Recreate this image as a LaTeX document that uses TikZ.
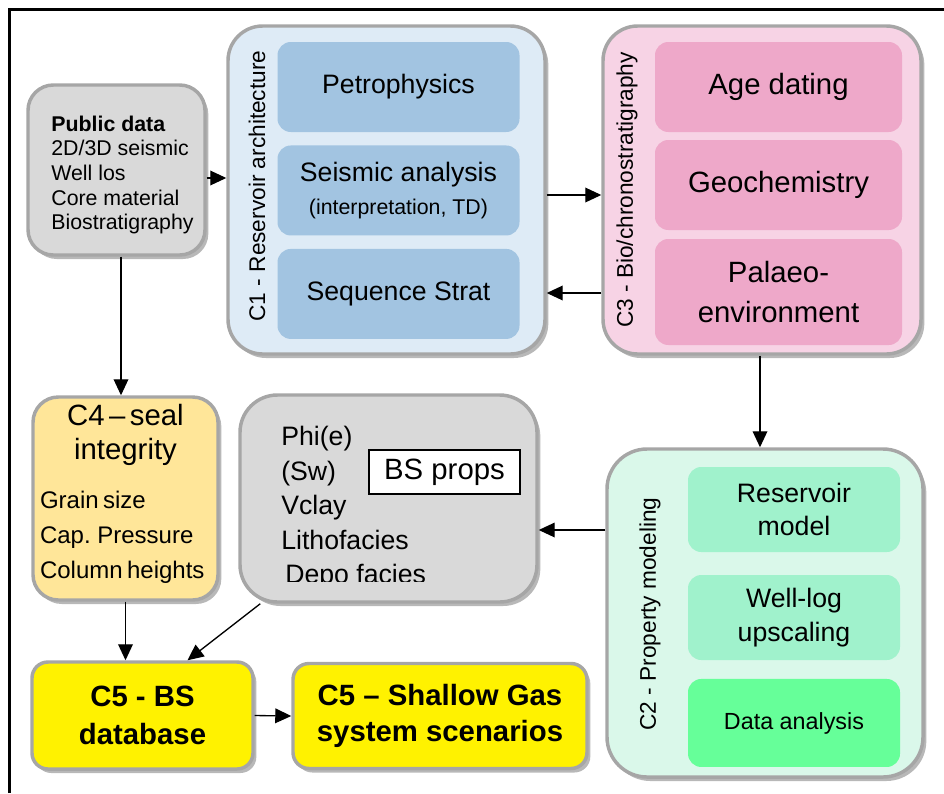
\documentclass[tikz,border=0pt]{standalone}
\usepackage{fontspec}
\setmainfont{Liberation Sans}
\usepackage{tikz}
\usetikzlibrary{shapes,arrows,arrows.meta,positioning,calc,fit,shadows}
\definecolor{boxline}{HTML}{A6A6A6}
\definecolor{pubgray}{HTML}{D9D9D9}
\definecolor{archfill}{HTML}{DEEBF6}
\definecolor{architem}{HTML}{A2C4E1}
\definecolor{biofill}{HTML}{F7D3E5}
\definecolor{bioitem}{HTML}{EEA8C9}
\definecolor{sealfill}{HTML}{FFE699}
\definecolor{modfill}{HTML}{DAF8EA}
\definecolor{moditem}{HTML}{A0F2CC}
\definecolor{datagreen}{HTML}{66FF99}
\tikzstyle{group} = [rectangle, draw=boxline, line width=2.6pt, rounded corners=24pt, inner sep=0pt, align=center, drop shadow={shadow xshift=2.5pt, shadow yshift=-3pt, fill=black!28, opacity=1}]
\tikzstyle{item} = [rectangle, rounded corners=10pt, inner sep=0pt, align=center, execute at begin node=\fontsize{20}{25}\selectfont]
\tikzstyle{title} = [rotate=90, inner sep=0pt, execute at begin node=\fontsize{17}{20}\selectfont]
\tikzstyle{line} = [draw, line width=1pt, -{Triangle[length=12pt,width=11pt]}]

\begin{document}
\begin{tikzpicture}[x=0.75pt, y=-0.75pt]
		\useasboundingbox (0,0) rectangle (944,793);
		\draw[line width=2.2pt] (9.5,793) -- (9.5,9.5) -- (944,9.5);

		% Row 1
		\node[group, fill=pubgray, minimum width=132.75pt, minimum height=127.5pt, rounded corners=19pt] (PublicData) at (116.5,170) {};
		\node[inner sep=0pt, align=left, execute at begin node=\fontsize{16}{18.4}\selectfont] (PublicText) at (122.5,175) {\textbf{Public data}\\2D/3D seismic\\Well los\\Core material\\Biostratigraphy};
		\node[group, fill=archfill, minimum width=237.75pt, minimum height=246pt, rounded corners=26pt] (ResArch) at (386.5,190) {};
		\node[title] (ResArchLabel) at (257,186) {C1 - Reservoir architecture};
		\node[item, fill=architem, minimum width=181.5pt, minimum height=67.5pt] (Petro) at (398.5,87) {Petrophysics};
		\node[item, fill=architem, minimum width=181.5pt, minimum height=67.5pt, below of = Petro, node distance = 77.6pt] (Seismic) {Seismic analysis\\[0pt]{\fontsize{16}{20}\selectfont (interpretation, TD)}};
		\node[item, fill=architem, minimum width=181.5pt, minimum height=67.5pt, below of = Seismic, node distance = 77.6pt] (SeqStrat) {Sequence Strat};

		\node[group, fill=biofill, minimum width=238.5pt, minimum height=246pt, rounded corners=26pt] (BioChron) at (762,190) {};
		\node[title] (BioChronLabel) at (627,190) {C3 - Bio/chronostratigraphy};
		\node[item, fill=bioitem, minimum width=185.25pt, minimum height=67.5pt, execute at begin node=\fontsize{22}{30}\selectfont] (AgeDating) at (778.5,87) {Age dating};
		\node[item, fill=bioitem, minimum width=185.25pt, minimum height=67.5pt, below of = AgeDating, node distance = 73.5pt, execute at begin node=\fontsize{22}{30}\selectfont] (Geochem) {Geochemistry};
		\node[item, fill=bioitem, minimum width=185.25pt, minimum height=79.5pt, below of = Geochem, node distance = 80.25pt, execute at begin node=\fontsize{22}{30}\selectfont] (Palaeo) {Palaeo-\\environment};

		% Row 2
		\node[group, fill=sealfill, minimum width=138.75pt, minimum height=152.25pt, rounded corners=19pt] (SealInt) at (125.5,498.5) {};
		\node[inner sep=0pt, text width=128.25pt, align=left, anchor=north] (SealText) at (125.5,404) {{\centering\fontsize{22}{25.5}\selectfont C4 – seal\\integrity\par}\vspace{11pt}{\raggedright\fontsize{18}{26}\selectfont Grain size\\Cap. Pressure\\Column heights\par}};
		\node[group, fill=pubgray, minimum width=222.75pt, minimum height=155.25pt, rounded corners=28pt] (PropsBox) at (388.5,498.5) {};
		\begin{scope}
			\clip (240,395) rectangle (537,581);
			\node[anchor=north west, inner sep=0pt, align=left, execute at begin node=\fontsize{20}{25.9}\selectfont] (PropsList) at (281,426) {Phi(e)\\(Sw)\\Vclay\\Lithofacies\\\hspace{3pt}Depo facies};
		\end{scope}
		\node[rectangle, draw, line width=1.4pt, fill=white, minimum width=113.25pt, minimum height=33pt, inner sep=0pt, execute at begin node=\fontsize{22}{26}\selectfont] (BSLabel) at (444.5,472) {BS props};

		\node[group, fill=modfill, minimum width=237pt, minimum height=246pt, rounded corners=30pt] (PropMod) at (765,613) {};
		\node[title] (PropModLabel) at (650,614) {C2 - Property modeling};
		\node[item, fill=moditem, minimum width=159pt, minimum height=63.75pt] (ResModel) at (794,509.5) {Reservoir\\model};
		\node[item, fill=moditem, minimum width=159pt, minimum height=63.75pt, below of = ResModel, node distance = 81pt] (WellLog) {Well-log\\upscaling};
		\node[item, fill=datagreen, minimum width=159pt, minimum height=66pt, below of = WellLog, node distance = 79.1pt, execute at begin node=\fontsize{17.5}{22}\selectfont] (DataAnalysis) {Data analysis};

		% Row 3
		\node[group, fill=yellow, minimum width=165.75pt, minimum height=80.25pt, rounded corners=12pt, execute at begin node=\fontsize{22}{28}\selectfont\bfseries] (BSDatabase) at (142.5,715.5) {C5 - BS\\database};
		\node[group, fill=yellow, minimum width=220.5pt, minimum height=78.75pt, rounded corners=12pt, execute at begin node=\fontsize{22}{27}\selectfont\bfseries] (ShallowGas) at (440,716) {C5 – Shallow Gas\\system scenarios};

		% Paths
		\path [line] ($(PublicData.east)+(0,8)$) -- ($(ResArch.west)+(0,-12)$);
		\path [line] ($(ResArch.east)+(0,5)$) -- ($(BioChron.west)+(0,5)$);
		\path [line] ($(BioChron.west)+(0,103)$) -- ($(ResArch.east)+(0,103)$);
		\path [line] ($(PublicData.south)+(4.5,0)$) -- ($(SealInt.north)+(-4.5,0)$);
		\path [line] ($(BioChron.south)+(-2,0)$) -- ($(PropMod.north)+(-5,0)$);
		\path [line] ($(PropMod.west)+(0,-83)$) -- ($(PropsBox.east)+(0,31.5)$);
		\path [line] (SealInt.south) -- (SealInt.south |- BSDatabase.north);
		\path [line] ($(PropsBox.south west)+(22,0)$) -- ($(BSDatabase.north)+(45,0)$);
		\path [line] (BSDatabase.east) -- (ShallowGas.west);

	\end{tikzpicture}
\end{document}
